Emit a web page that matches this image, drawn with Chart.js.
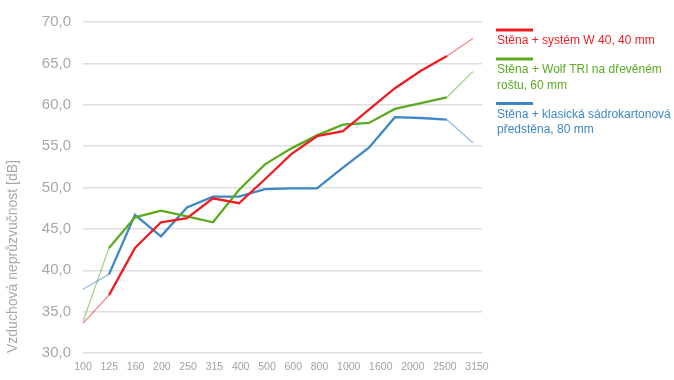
<!DOCTYPE html>
<html><head><meta charset="utf-8">
<script src="https://cdn.jsdelivr.net/npm/chart.js@4.4.1/dist/chart.umd.min.js"></script>
<style>html,body{margin:0;padding:0;background:#fff;}#wrap{width:674px;height:380px;position:relative}</style>
</head><body><div id="wrap"><canvas id="c" width="674" height="380"></canvas></div>
<script>
const bands = ['100','125','160','200','250','315','400','500','630','800','1000','1250','1600','2000','2500','3150'];
const tickLabels = ['100','125','160','200','250','315','400','500','600','800','1000','1600','2000','2500','3150'];
const yTicks = [30,35,40,45,50,55,60,65,70];
const seriesNames = ['Stěna + systém W 40, 40 mm','Stěna + Wolf TRI na dřevěném roštu, 60 mm','Stěna + klasická sádrokartonová předstěna, 80 mm'];
const redValues   = [33.6,37.0,42.7,45.8,46.3,48.7,48.1,51.0,54.0,56.2,56.8,59.4,62.0,64.1,65.9,68.0];
const greenValues = [33.8,42.7,46.4,47.2,46.5,45.8,49.7,52.8,54.7,56.3,57.6,57.8,59.5,60.2,60.9,64.0];
const blueValues  = [37.7,39.5,46.7,44.1,47.6,48.9,48.9,49.8,49.9,49.9,52.4,54.8,58.5,58.4,58.2,55.4];
const seriesColors = ['#ee1d24','#5aab1f','#3f86c9'];

const FONT = '"Liberation Sans", Arial, Helvetica, sans-serif';

function rgba(hex, a){
  const n = parseInt(hex.slice(1),16);
  return `rgba(${(n>>16)&255},${(n>>8)&255},${n&255},${a})`;
}
function labelFractions(){
  const ctx = document.createElement('canvas').getContext('2d');
  ctx.font = '10.5px ' + FONT;
  const w = tickLabels.map(t => ctx.measureText(t).width);
  const gap = 9;
  const c = [0];
  for (let i = 1; i < w.length; i++) c.push(c[i-1] + w[i-1]/2 + gap + w[i]/2);
  const L = c[c.length-1];
  return c.map(v => v / L);
}
const fractions = labelFractions();

function makeDataset(name, values, color){
  const last = values.length - 1;
  return {
    label: name,
    data: values.map((v,i) => ({x:i, y:v})),
    borderColor: color,
    backgroundColor: color,
    borderWidth: 2.3,
    pointRadius: 0,
    tension: 0,
    fill: false,
    segment: {
      borderWidth: c => (c.p0DataIndex === 0 || c.p1DataIndex === last) ? 1.3 : 2.3,
      borderColor: c => (c.p0DataIndex === 0 || c.p1DataIndex === last) ? rgba(color, 0.55) : color
    }
  };
}

const sideLegend = {
  id: 'sideLegend',
  afterDraw(chart){
    const ctx = chart.ctx;
    const x0 = chart.chartArea.right + 15;
    let y = chart.chartArea.top + 8;
    ctx.save();
    ctx.font = '12px ' + FONT;
    ctx.textBaseline = 'middle';
    ctx.textAlign = 'left';
    chart.data.datasets.forEach(ds => {
      ctx.strokeStyle = ds.borderColor;
      ctx.lineWidth = 3;
      ctx.beginPath(); ctx.moveTo(x0 - 1, y); ctx.lineTo(x0 + 36, y); ctx.stroke();
      const words = ds.label.split(' ');
      const lines = []; let cur = '';
      words.forEach(wd => {
        const t = cur ? cur + ' ' + wd : wd;
        if (ctx.measureText(t).width > 180 && cur) { lines.push(cur); cur = wd; } else cur = t;
      });
      if (cur) lines.push(cur);
      let ty = y + 11;
      ctx.fillStyle = ds.borderColor;
      lines.forEach((ln, i) => { ctx.fillText(ln, x0, ty); if (i < lines.length - 1) ty += 15.5; });
      y = ty + 18;
    });
    ctx.restore();
  }
};

new Chart(document.getElementById('c'), {
  type: 'line',
  data: {
    datasets: [
      makeDataset(seriesNames[0], redValues, seriesColors[0]),
      makeDataset(seriesNames[1], greenValues, seriesColors[1]),
      makeDataset(seriesNames[2], blueValues, seriesColors[2])
    ]
  },
  options: {
    responsive: false,
    devicePixelRatio: 1,
    animation: false,
    layout: { padding: { top: 22, right: 192, left: 0, bottom: 0 } },
    plugins: { legend: { display: false }, tooltip: { enabled: false } },
    scales: {
      x: { type: 'linear', display: false, min: 0, max: 15.35 },
      xl: {
        type: 'linear', position: 'bottom', min: 0, max: 1.0127,
        grid: { display: false, drawTicks: false }, border: { display: false },
        afterBuildTicks: axis => { axis.ticks = fractions.map(v => ({ value: v })); },
        afterFit: s => { s.height = 27; },
        ticks: {
          autoSkip: false, maxRotation: 0, minRotation: 0, padding: 8,
          color: '#a0a0a0', font: { family: FONT, size: 10.5 },
          callback: (v, i) => tickLabels[i]
        }
      },
      y: {
        min: 30, max: 70,
        afterBuildTicks: axis => { axis.ticks = yTicks.map(v => ({ value: v })); },
        afterFit: s => { s.width = 83; },
        grid: { color: '#dedede', lineWidth: 1.5, drawTicks: false },
        border: { display: false },
        ticks: {
          padding: 12, color: '#a8a8a8', font: { family: FONT, size: 15 },
          callback: v => Number(v).toFixed(1).replace('.', ',')
        },
        title: {
          display: true, text: 'Vzduchová neprůzvučnost [dB]', align: 'start',
          color: '#a8a8a8', font: { family: FONT, size: 14 }, padding: { top: 5, bottom: 0 }
        }
      }
    }
  },
  plugins: [sideLegend]
});
</script>
</body></html>
